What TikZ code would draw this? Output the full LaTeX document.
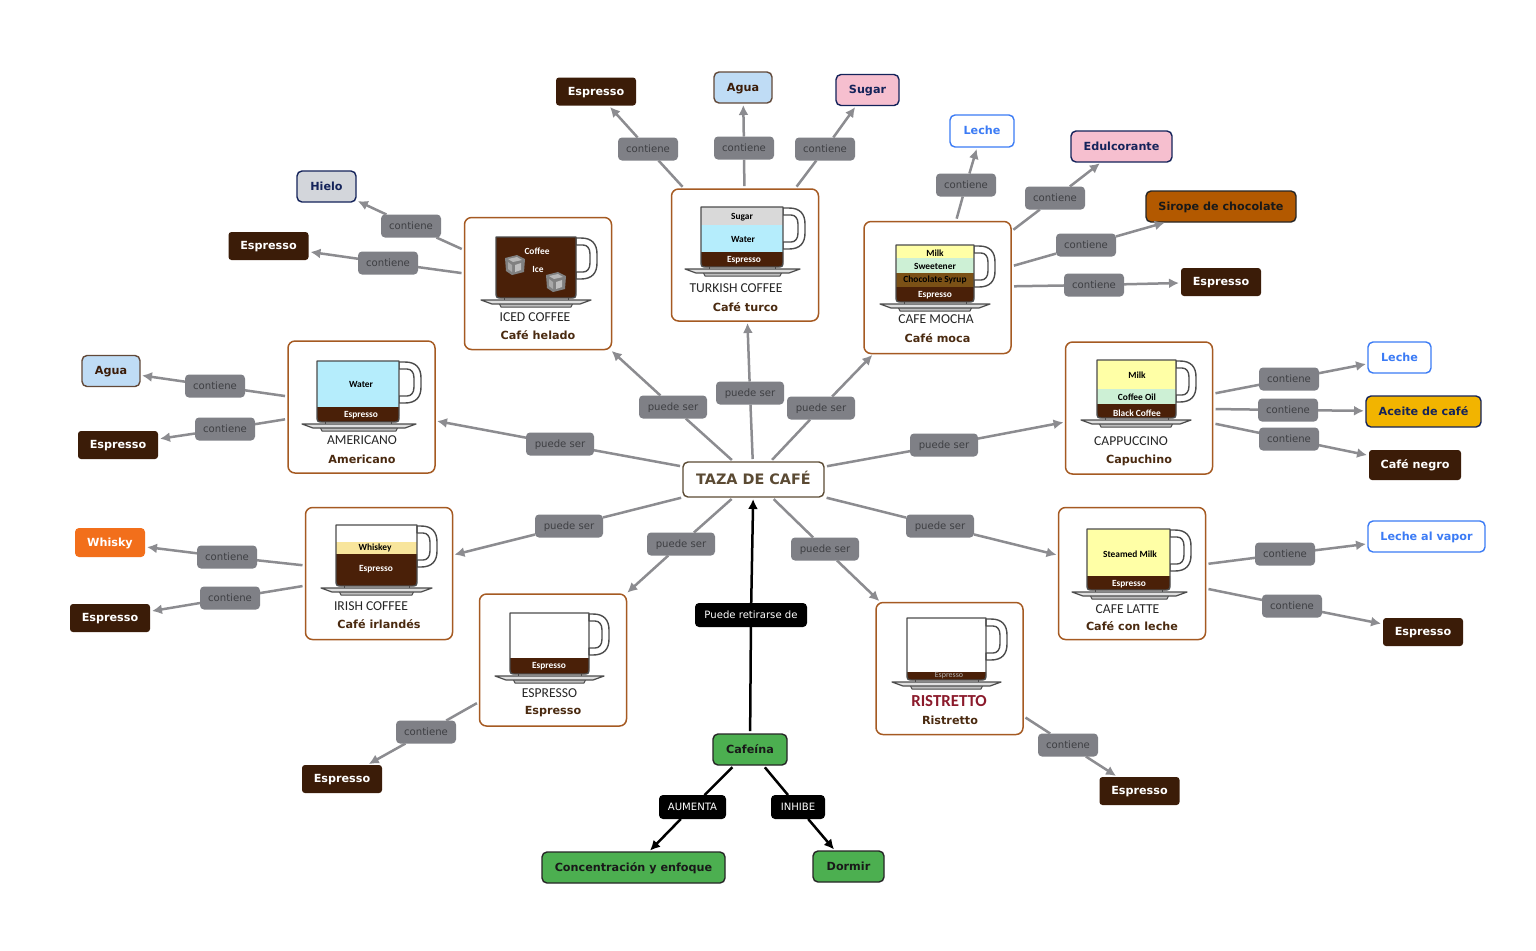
\documentclass[tikz,border=0pt]{standalone}
\usepackage{fontspec}
\setmainfont{DejaVu Sans}
\newfontfamily\capfont{Carlito}
\usetikzlibrary{arrows.meta}
\definecolor{darkc}{HTML}{3B1C08}
\definecolor{greyl}{HTML}{7F8086}
\definecolor{greyt}{HTML}{3E3F43}
\definecolor{greyline}{HTML}{8C8C90}
\definecolor{conb}{HTML}{A55A22}
\definecolor{navy}{HTML}{14235A}
\definecolor{nametext}{HTML}{4A2A10}
\definecolor{espc}{HTML}{4A2008}
\definecolor{milky}{HTML}{FFFFA6}
\definecolor{wat}{HTML}{B5EDFC}
\definecolor{mint}{HTML}{CDF0D5}
\definecolor{bluefill}{HTML}{BFDCF5}
\definecolor{pinkfill}{HTML}{F6BFCF}
\definecolor{greyfill}{HTML}{D3D6DB}
\definecolor{blueedge}{HTML}{3B7BF5}
\definecolor{siropefill}{HTML}{B35900}
\definecolor{whiskyfill}{HTML}{F26F1B}
\definecolor{aceitefill}{HTML}{F2B400}
\definecolor{greenfill}{HTML}{4CAF50}
\definecolor{tazatext}{HTML}{5B4A33}
\definecolor{whiskeyband}{HTML}{F8E59C}
\definecolor{choc}{HTML}{7B5116}
\definecolor{rist}{HTML}{8B1A2B}
\tikzset{
 px/.style={text height=4.2pt,text depth=0.3pt},
 boldt/.style={font=\fontsize{5.6}{7}\selectfont\bfseries,px},
 wh/.style 2 args={minimum width=#1*0.5pt,minimum height=#2*0.5pt,inner sep=0pt,outer sep=0pt},
 concept/.style={draw=conb,line width=0.75pt,rounded corners=3.5pt,fill=white,wh={147}{132}},
 leafdark/.style={rounded corners=1.5pt,fill=darkc,text=white,wh={80}{28},boldt},
 leafnavy/.style={draw=navy,line width=0.7pt,rounded corners=2.5pt,text=navy,boldt},
 leafbrown/.style={draw=darkc!80,line width=0.7pt,rounded corners=2.5pt,fill=bluefill,text=darkc,boldt},
 leafblue/.style={draw=blueedge,line width=0.7pt,rounded corners=2.5pt,fill=white,text=blueedge,boldt},
 leafgreen/.style={draw=black!85,line width=0.7pt,rounded corners=2.5pt,fill=greenfill,text=black!90,boldt},
 lab/.style={fill=greyl,text=greyt,rounded corners=2pt,wh={60}{23},font=\fontsize{5.05}{7}\selectfont,px},
 labp/.style={lab,wh={68}{23}},
 labk/.style={fill=black,text=white,rounded corners=2pt,wh={#1}{24},font=\fontsize{5.05}{7}\selectfont,px},
 linein/.style={draw=#1,line width=1.25pt,shorten <=1.5pt},
 lineout/.style={draw=#1,line width=1.25pt,shorten >=1pt,-{Latex[length=5pt,width=5pt]}},
 captxt/.style={font=\fontsize{6.8}{8}\capfont,text=black!85,inner sep=0pt,yshift=-0.3pt},
 nametxt/.style={font=\fontsize{5.6}{7}\selectfont\bfseries,text=nametext,inner sep=0pt,yshift=-0.3pt},
 small/.style={font=\fontsize{4.7}{5}\capfont\bfseries,inner sep=0pt,yshift=-0.2pt},
}
% args: left right top bottom handleRight saucerL saucerR
\newcommand\coffeecup{\cupA}
\newcommand\cupA[7]{%
 \draw[black!70,line width=0.7pt,line join=round,fill=white] (#2,{#3+1}) -- ({#5-16},{#3+1}) .. controls ({#5-5},{#3+1}) and (#5,{#3+7}) .. (#5,{#3+17}) -- (#5,{#3+26}) .. controls (#5,{#3+36}) and ({#5-5},{#3+42}) .. ({#5-16},{#3+42}) -- (#2,{#3+42}) -- (#2,{#3+35}) -- ({#5-14},{#3+35}) .. controls ({#5-10},{#3+35}) and ({#5-7},{#3+32}) .. ({#5-7},{#3+26}) -- ({#5-7},{#3+17}) .. controls ({#5-7},{#3+11}) and ({#5-10},{#3+8}) .. ({#5-14},{#3+8}) -- (#2,{#3+8}) -- cycle;
 \draw[black!70,line width=0.5pt,line join=round,fill=black!25] ({#6+18},{#4+5}) -- ({#7-18},{#4+5}) -- ({#7-20},{#4+9}) -- ({#6+20},{#4+9}) -- cycle;
 \draw[black!70,line width=0.6pt,line join=round,fill=black!12] (#6,{#4+2}) -- (#7,{#4+2}) -- ({#7-11},{#4+6}) -- ({#6+11},{#4+6}) -- cycle;
 \draw[black!70,line width=0.5pt] ({#1+8},{#4}) -- ({#1+8},{#4+2}) ({#2-8},{#4}) -- ({#2-8},{#4+2});
}
% args: left right y1 y2 colour
\newcommand\cuplayer[5]{\fill[#5] (#1,#3) rectangle (#2,#4);}
\newcommand\cupbase[5]{\fill[#5] (#1,#3) -- (#1,{#4-7}) .. controls (#1,#4) and (#1,#4) .. ({#1+7},#4) -- ({#2-7},#4) .. controls (#2,#4) and (#2,#4) .. (#2,{#4-7}) -- (#2,#3) -- cycle;}
% args: left right top bottom
\newcommand\cupoutline[4]{\draw[black!70,line width=0.7pt,line join=round] (#1,#3) -- (#2,#3) -- (#2,{#4-7}) .. controls (#2,#4) and (#2,#4) .. ({#2-7},#4) -- ({#1+7},#4) .. controls (#1,#4) and (#1,#4) .. (#1,{#4-7}) -- cycle;}
\newcommand\icecube[2]{%
 \fill[black!50] ({#1-10},{#2-7}) -- ({#1+2},{#2-10}) -- ({#1+10},{#2-6}) -- ({#1+9},{#2+7}) -- ({#1-3},{#2+10}) -- ({#1-9},{#2+6}) -- cycle;
 \fill[black!28] ({#1-7},{#2-6}) -- ({#1+2},{#2-8}) -- ({#1+7},{#2-5}) -- ({#1-2},{#2-3}) -- cycle;
 \fill[black!34] ({#1-7},{#2-3}) -- ({#1-3},{#2}) -- ({#1-3},{#2+7}) -- ({#1-7},{#2+4}) -- cycle;
 \fill[black!25] ({#1},{#2}) -- ({#1+6},{#2-2}) -- ({#1+6},{#2+5}) -- ({#1},{#2+7}) -- cycle;}
\begin{document}
\begin{tikzpicture}[x=0.5pt,y=-0.5pt]
\useasboundingbox (0,0) rectangle (1536,950);
\fill[white] (0,0) rectangle (1536,950);

% concept boxes
\node[draw=tazatext,line width=0.7pt,rounded corners=2.5pt,fill=white,wh={141}{35},text=tazatext,font=\fontsize{7.2}{9}\selectfont\bfseries,text height=5.3pt,text depth=0pt] (taza) at (753.5,479.5) {TAZA DE CAFÉ};
\node[concept] (cAm) at (361.5,407) {};
\node[concept] (cIc) at (538,283.5) {};
\node[concept] (cTu) at (745,255) {};
\node[concept] (cMo) at (937.5,287.5) {};
\node[concept] (cCa) at (1139,408) {};
\node[concept] (cLa) at (1132,573.5) {};
\node[concept] (cRi) at (949.5,668.5) {};
\node[concept] (cEs) at (553,660) {};
\node[concept] (cIr) at (379,573.5) {};

% leaves
\node[leafdark] (eTu) at (596,91.5) {Espresso};
\node[leafbrown,wh={58}{31}] (agTu) at (743,87.5) {Agua};
\node[leafnavy,fill=pinkfill,wh={63}{31}] (suTu) at (867.5,90) {Sugar};
\node[leafblue,wh={64}{32}] (leMo) at (982,131) {Leche};
\node[leafnavy,fill=pinkfill,wh={101}{31}] (edMo) at (1121.5,146.5) {Edulcorante};
\node[draw=black!85,line width=0.7pt,rounded corners=2.5pt,fill=siropefill,text=black!90,wh={150}{31},boldt] (siMo) at (1221,206.5) {Sirope de chocolate};
\node[leafdark] (eMo) at (1221,282) {Espresso};
\node[leafnavy,fill=greyfill,wh={59}{31}] (hiIc) at (326.5,186.5) {Hielo};
\node[leafdark] (eIc) at (268.5,246) {Espresso};
\node[leafbrown,wh={58}{31}] (agAm) at (111,371) {Agua};
\node[leafdark] (eAm) at (118,445) {Espresso};
\node[fill=whiskyfill,text=white,rounded corners=2pt,wh={70}{29},boldt] (whIr) at (110,542.5) {Whisky};
\node[leafdark] (eIr) at (110,618) {Espresso};
\node[leafdark] (eEs) at (342,779) {Espresso};
\node[leafdark] (eRi) at (1139.5,791) {Espresso};
\node[leafblue,wh={117}{31}] (leLa) at (1426.5,536.5) {Leche al vapor};
\node[leafdark] (eLa) at (1423,632) {Espresso};
\node[leafblue,wh={63}{31}] (leCa) at (1399.5,357.5) {Leche};
\node[leafnavy,fill=aceitefill,wh={115}{31}] (acCa) at (1423.5,411.5) {Aceite de café};
\node[leafdark,wh={92}{30}] (neCa) at (1415,465) {Café negro};

% link labels
\node[labp] (pAm) at (560,444) {puede ser};
\node[labp] (pIc) at (673,407) {puede ser};
\node[labp] (pTu) at (750,393) {puede ser};
\node[labp] (pMo) at (821,408) {puede ser};
\node[labp] (pCa) at (944,445) {puede ser};
\node[labp] (pLa) at (940,526) {puede ser};
\node[labp] (pRi) at (825,549) {puede ser};
\node[labp] (pEs) at (681,544) {puede ser};
\node[labp] (pIr) at (569,526) {puede ser};
\node[lab] (c1) at (648,149) {contiene};
\node[lab] (c2) at (744,148) {contiene};
\node[lab] (c3) at (825,149) {contiene};
\node[lab] (c4) at (966,185) {contiene};
\node[lab] (c5) at (1055,198) {contiene};
\node[lab] (c6) at (1086,245) {contiene};
\node[lab] (c7) at (1094,285) {contiene};
\node[lab] (c8) at (411,226) {contiene};
\node[lab] (c9) at (388,263) {contiene};
\node[lab] (c10) at (215,386) {contiene};
\node[lab] (c11) at (225,429) {contiene};
\node[lab] (c12) at (227,557) {contiene};
\node[lab] (c13) at (230,598) {contiene};
\node[lab] (c14) at (426,732) {contiene};
\node[lab] (c15) at (1068,745) {contiene};
\node[lab] (c16) at (1285,554) {contiene};
\node[lab] (c17) at (1292,606) {contiene};
\node[lab] (c18) at (1289,379) {contiene};
\node[lab] (c19) at (1288,410) {contiene};
\node[lab] (c20) at (1289,439) {contiene};

% caffeine
\node[leafgreen,wh={74}{31}] (caf) at (750,749.5) {Cafeína};
\node[leafgreen,wh={183}{31}] (con) at (633.5,867.5) {Concentración y enfoque};
\node[leafgreen,wh={71}{31}] (dor) at (848.5,866.5) {Dormir};
\node[labk={112}] (kR) at (751,615) {Puede retirarse de};
\node[labk={67}] (kA) at (692.5,807) {AUMENTA};
\node[labk={54}] (kI) at (798,807) {INHIBE};

% connectors
\foreach \a/\b in {pAm/cAm,pIc/cIc,pTu/cTu,pMo/cMo,pCa/cCa,pLa/cLa,pRi/cRi,pEs/cEs,pIr/cIr}{
  \draw[linein=greyline] (taza) -- (\a);
  \draw[lineout=greyline] (\a) -- (\b);}
\foreach \s/\a/\b in {cTu/c1/eTu,cTu/c2/agTu,cTu/c3/suTu,cMo/c4/leMo,cMo/c5/edMo,cMo/c6/siMo,cMo/c7/eMo,cIc/c8/hiIc,cIc/c9/eIc,cAm/c10/agAm,cAm/c11/eAm,cIr/c12/whIr,cIr/c13/eIr,cEs/c14/eEs,cRi/c15/eRi,cLa/c16/leLa,cLa/c17/eLa,cCa/c18/leCa,cCa/c19/acCa,cCa/c20/neCa}{
  \draw[linein=greyline] (\s) -- (\a);
  \draw[lineout=greyline] (\a) -- (\b);}
\foreach \a/\b/\c in {caf/kR/taza,caf/kA/con,caf/kI/dor}{
  \draw[linein=black] (\a) -- (\b);
  \draw[lineout=black] (\b) -- (\c);}

% Turkish
\coffeecup{701}{783}{207}{267}{805}{685}{800}
\cuplayer{701}{783}{207}{225}{black!15}
\cuplayer{701}{783}{225}{252}{wat}
\cupbase{701}{783}{252}{267}{espc}
\cupoutline{701}{783}{207}{267}
\node[small,text=black] (tTu1) at (742,216.5) {Sugar};
\node[small,text=black] (tTu2) at (743,239.5) {Water};
\node[small,text=white] (tTu3) at (744,260) {Espresso};
\node[captxt] (nTu) at (736,287.5) {TURKISH COFFEE};
\node[nametxt] (mTu) at (745.5,306) {Café turco};

% Mocha
\coffeecup{896}{974}{245}{302}{995}{880}{990}
\cuplayer{896}{974}{245}{258}{milky}
\cuplayer{896}{974}{258}{273}{mint}
\cuplayer{896}{974}{273}{287}{choc}
\cupbase{896}{974}{287}{302}{espc}
\cupoutline{896}{974}{245}{302}
\node[small,text=black] (tMo1) at (935,252.5) {Milk};
\node[small,text=black] (tMo2) at (935,266.5) {Sweetener};
\node[small,text=black] (tMo3) at (935,279.5) {Chocolate Syrup};
\node[small,text=white] (tMo4) at (935,294.5) {Espresso};
\node[captxt] (nMo) at (936,318.5) {CAFE MOCHA};
\node[nametxt] (mMo) at (937.5,337.5) {Café moca};

% Iced
\coffeecup{496}{576}{237}{298}{597}{481}{591}
\cupbase{496}{576}{237}{298}{espc}
\cupoutline{496}{576}{237}{298}
\icecube{515}{265}
\icecube{556}{282}
\node[small,text=white] (tIc1) at (537,250.5) {Coffee};
\node[small,text=white] (tIc2) at (538,269) {Ice};
\node[captxt] (nIc) at (535,316.5) {ICED COFFEE};
\node[nametxt] (mIc) at (538,334.5) {Café helado};

% Americano
\coffeecup{317}{399}{361}{422}{421}{302}{416}
\cuplayer{317}{399}{361}{407}{wat}
\cupbase{317}{399}{407}{422}{espc}
\cupoutline{317}{399}{361}{422}
\node[small,text=black] (tAm1) at (361,384.5) {Water};
\node[small,text=white] (tAm2) at (361,414.5) {Espresso};
\node[captxt] (nAm) at (362,440) {AMERICANO};
\node[nametxt] (mAm) at (362,458.5) {Americano};

% Cappuccino
\coffeecup{1097}{1176}{360}{418}{1196}{1081}{1191}
\cuplayer{1097}{1176}{360}{389}{milky}
\cuplayer{1097}{1176}{389}{404}{mint}
\cupbase{1097}{1176}{404}{418}{espc}
\cupoutline{1097}{1176}{360}{418}
\node[small,text=black] (tCa1) at (1137,375) {Milk};
\node[small,text=black] (tCa2) at (1137,397) {Coffee Oil};
\node[small,text=white] (tCa3) at (1137,412.5) {Black Coffee};
\node[captxt] (nCa) at (1131,440.5) {CAPPUCCINO};
\node[nametxt] (mCa) at (1139,459.5) {Capuchino};

% Latte
\coffeecup{1087}{1170}{529}{590}{1191}{1072}{1187}
\cuplayer{1087}{1170}{529}{576}{milky}
\cupbase{1087}{1170}{576}{590}{espc}
\cupoutline{1087}{1170}{529}{590}
\node[small,text=black] (tLa1) at (1130,554) {Steamed Milk};
\node[small,text=white] (tLa2) at (1129,583.5) {Espresso};
\node[captxt] (nLa) at (1127.5,608.5) {CAFE LATTE};
\node[nametxt] (mLa) at (1132,625.5) {Café con leche};

% Ristretto
\coffeecup{907}{986}{618}{680}{1007}{892}{1001}
\cupbase{907}{986}{672}{680}{espc}
\cupoutline{907}{986}{618}{680}
\node[font=\fontsize{4}{5}\capfont,text=black!30,inner sep=0pt] (tRi1) at (949,675.5) {Espresso};
\node[font=\fontsize{8.4}{9}\capfont\bfseries,text=rist,inner sep=0pt] (nRi) at (949,701.5) {RISTRETTO};
\node[nametxt] (mRi) at (950,719.5) {Ristretto};

% Espresso
\coffeecup{510}{589}{613}{674}{609}{495}{604}
\cupbase{510}{589}{658}{674}{espc}
\cupoutline{510}{589}{613}{674}
\node[small,text=white] (tEs1) at (549,665.5) {Espresso};
\node[captxt] (nEs) at (549.5,692.5) {ESPRESSO};
\node[nametxt] (mEs) at (553,711) {Espresso};

% Irish
\coffeecup{336}{417}{525}{586}{437}{321}{432}
\cuplayer{336}{417}{542}{554}{whiskeyband}
\cupbase{336}{417}{554}{586}{espc}
\cupoutline{336}{417}{525}{586}
\node[small,text=black] (tIr1) at (375,548) {Whiskey};
\node[small,text=white] (tIr2) at (376,568.5) {Espresso};
\node[captxt] (nIr) at (371,605.5) {IRISH COFFEE};
\node[nametxt] (mIr) at (379,623) {Café irlandés};
\end{tikzpicture}
\end{document}
